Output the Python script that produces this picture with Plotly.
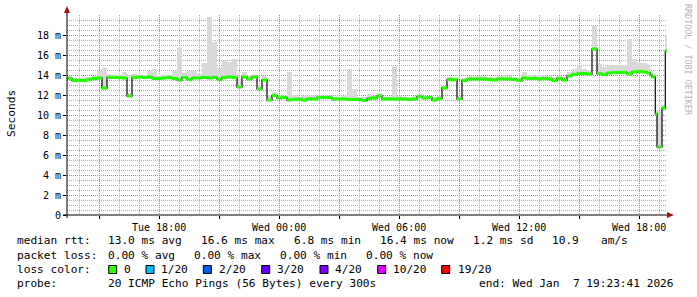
import plotly.graph_objects as go
import pandas as pd

# ---------------- data ----------------
START = pd.Timestamp("2026-01-06 13:23:41")
END = pd.Timestamp("2026-01-07 19:23:41")

# median RTT (ms), 15-minute samples from START
median_15min = [
    13.65, 13.45, 13.45, 13.45, 13.55, 13.65, 13.70, 12.70, 13.75, 13.75,
    13.75, 13.70, 11.90, 13.75, 13.80, 13.75, 13.80, 13.65, 13.65, 13.70,
    13.75, 13.65, 13.50, 13.75, 13.55, 13.70, 13.70, 13.75, 13.70, 13.75,
    13.55, 13.75, 13.80, 13.75, 12.80, 13.80, 13.60, 13.80, 12.60, 13.50,
    11.50, 11.95, 11.70, 11.75, 11.50, 11.55, 11.60, 11.50, 11.60, 11.60,
    11.75, 11.75, 11.75, 11.60, 11.60, 11.60, 11.55, 11.55, 11.55, 11.45,
    11.65, 11.70, 11.90, 11.60, 11.60, 11.60, 11.60, 11.60, 11.55, 11.60,
    11.85, 11.70, 11.75, 11.50, 11.65, 12.70, 13.55, 13.55, 11.60, 13.45,
    13.60, 13.60, 13.60, 13.60, 13.55, 13.50, 13.60, 13.60, 13.60, 13.55,
    13.45, 13.70, 13.65, 13.65, 13.60, 13.65, 13.60, 13.45, 13.65, 13.50,
    13.90, 14.05, 14.15, 14.15, 14.10, 16.60, 14.15, 14.05, 14.20, 14.25,
    14.25, 14.25, 14.10, 14.30, 14.35, 14.30,
]
# highest ping of each sample (ms) - top of the "smoke"
smoke_max_15min = [
    13.90, 13.75, 13.70, 13.75, 13.80, 13.90, 14.40, 14.75, 14.05, 14.00,
    14.00, 14.30, 12.20, 14.10, 14.00, 14.00, 14.50, 14.60, 14.00, 14.05,
    14.00, 14.45, 16.75, 14.20, 14.45, 14.40, 14.10, 15.20, 19.80, 17.30,
    14.75, 15.50, 15.30, 15.60, 13.60, 14.30, 14.00, 14.05, 13.00, 13.90,
    12.00, 12.35, 11.90, 11.95, 14.30, 12.00, 11.85, 11.90, 11.95, 11.95,
    11.95, 11.95, 11.95, 11.85, 11.85, 11.90, 14.60, 12.60, 11.80, 11.80,
    12.10, 11.90, 12.20, 11.85, 11.85, 14.85, 11.90, 11.85, 11.80, 11.85,
    12.10, 11.90, 11.90, 11.80, 11.90, 12.90, 13.80, 13.75, 11.90, 13.70,
    13.90, 13.85, 13.90, 13.85, 13.80, 13.80, 13.90, 14.00, 13.90, 13.80,
    13.70, 14.30, 14.00, 13.90, 14.00, 13.95, 13.90, 13.80, 13.90, 13.85,
    14.30, 14.60, 14.95, 14.60, 14.50, 18.90, 15.10, 14.80, 14.90, 15.00,
    15.00, 14.90, 17.60, 15.60, 15.25, 15.20,
]
# last hour at 5-minute resolution
median_5min_tail = [14.20, 14.20, 14.00, 13.80, 13.80, 10.10, 6.80, 6.80, 6.80, 10.70, 10.70, 16.40]
smoke_max_5min_tail = [15.10, 15.00, 14.60, 14.40, 14.20, 10.40, 10.40, 10.40, 10.30, 11.00, 11.00, 17.90]

y_tick_vals = [0, 2, 4, 6, 8, 10, 12, 14, 16, 18]
y_tick_labels = ["0", "2 m", "4 m", "6 m", "8 m", "10 m", "12 m", "14 m", "16 m", "18 m"]
x_tick_times = ["2026-01-06 15:00", "2026-01-06 18:00", "2026-01-06 21:00", "2026-01-07 00:00",
                "2026-01-07 03:00", "2026-01-07 06:00", "2026-01-07 09:00", "2026-01-07 12:00",
                "2026-01-07 15:00", "2026-01-07 18:00"]
x_tick_labels = ["", "Tue 18:00", "", "Wed 00:00", "", "Wed 06:00", "", "Wed 12:00", "", "Wed 18:00"]

rtt_stats = ["13.0 ms avg", "16.6 ms max", "6.8 ms min", "16.4 ms now", "1.2 ms sd", "10.9", "am/s"]
loss_stats = ["0.00 % avg", "0.00 % max", "0.00 % min", "0.00 % now"]
loss_labels = ["0", "1/20", "2/20", "3/20", "4/20", "10/20", "19/20"]
loss_colors = ["#26ff00", "#00b8ff", "#0059ff", "#5e00ff", "#7e00ff", "#dd00ff", "#ff0000"]
probe_text = "20 ICMP Echo Pings (56 Bytes) every 300s"
end_text = "end: Wed Jan  7 19:23:41 2026"

# ---------------- build series ----------------
times = list(pd.date_range(START, periods=len(median_15min), freq="15min"))
tail_start = times[-1] + pd.Timedelta(minutes=15)
times += list(pd.date_range(tail_start, periods=len(median_5min_tail), freq="5min"))
median = median_15min + median_5min_tail
smoke = smoke_max_15min + smoke_max_5min_tail

t_ext = times + [END]
med_ext = median + [median[-1]]
smoke_ext = smoke + [smoke[-1]]

gx, gy = [], []
for i, v in enumerate(median):
    gx += [t_ext[i], t_ext[i + 1], None]
    gy += [v, v, None]

MONO = "DejaVu Sans Mono"
fig = go.Figure()
fig.add_trace(go.Scatter(x=t_ext, y=med_ext, mode="lines", line=dict(shape="hv", width=0),
                         hoverinfo="skip", showlegend=False))
fig.add_trace(go.Scatter(x=t_ext, y=smoke_ext, mode="lines", line=dict(shape="hv", width=0),
                         fill="tonexty", fillcolor="#d9d9d9", hoverinfo="skip", showlegend=False))
fig.add_trace(go.Scatter(x=t_ext, y=med_ext, mode="lines", line=dict(shape="hv", width=1.3, color="#1a1a1a"),
                         hoverinfo="skip", showlegend=False))
fig.add_trace(go.Scatter(x=gx, y=gy, mode="lines", line=dict(width=3.2, color=loss_colors[0]),
                         hoverinfo="skip", showlegend=False, connectgaps=False))

# ---------------- layout ----------------
L, T, W, H = 67, 15, 600, 200
def px(x):
    return (x - L) / W
def py(y):
    return (T + H - y) / H

MAJ = "#de7474"
MIN = "#ababab"
fig.update_layout(
    width=697, height=297,
    margin=dict(l=L, r=697 - L - W, t=T, b=297 - T - H, pad=0),
    paper_bgcolor="white", plot_bgcolor="white",
    showlegend=False,
    xaxis=dict(type="date", range=[START, END], tickmode="array",
               tickvals=x_tick_times, ticktext=x_tick_labels,
               showgrid=True, gridcolor=MAJ, griddash="1px,1px", gridwidth=1,
               minor=dict(tickmode="linear", tick0="2026-01-06 14:00", dtick=3600000,
                          showgrid=True, gridcolor=MIN, griddash="1px,1px", ticks=""),
               ticks="outside", ticklen=3, tickcolor="black",
               tickfont=dict(family=MONO, size=10, color="black"),
               showline=False, zeroline=False, fixedrange=True),
    yaxis=dict(range=[0, 20], tickmode="array", tickvals=y_tick_vals, ticktext=y_tick_labels,
               showgrid=True, gridcolor=MAJ, griddash="1px,1px", gridwidth=1,
               minor=dict(tickmode="linear", tick0=0, dtick=0.5,
                          showgrid=True, gridcolor=MIN, griddash="1px,1px", ticks=""),
               ticks="outside", ticklen=3, tickcolor="black",
               tickfont=dict(family=MONO, size=10, color="black"),
               showline=False, zeroline=False, fixedrange=True),
)

shapes = [
    dict(type="line", xref="paper", yref="paper", x0=px(63), y0=py(215), x1=px(670), y1=py(215),
         line=dict(color="black", width=1)),
    dict(type="line", xref="paper", yref="paper", x0=px(67), y0=py(218), x1=px(67), y1=py(11),
         line=dict(color="black", width=1)),
    dict(type="path", xref="paper", yref="paper",
         path=f"M {px(667)} {py(212)} L {px(674)} {py(215)} L {px(667)} {py(218)} Z",
         fillcolor="#a01010", line=dict(width=0)),
    dict(type="path", xref="paper", yref="paper",
         path=f"M {px(64)} {py(13)} L {px(67)} {py(6)} L {px(70)} {py(13)} Z",
         fillcolor="#a01010", line=dict(width=0)),
]

ann = []
def text(x, y, s, size=11.15, color="black", angle=0, xanchor="left"):
    ann.append(dict(xref="paper", yref="paper", x=px(x), y=py(y), text=s, showarrow=False,
                    xanchor=xanchor, yanchor="middle", textangle=angle, borderpad=0,
                    font=dict(family=MONO, size=size, color=color)))

# axis title and watermark
text(11, 114, "Seconds", size=11.2, angle=-90, xanchor="center")
text(688, 60, "RRDTOOL / TOBI OETIKER", size=8.4, color="#b4b4b4", angle=90, xanchor="center")

# legend rows
row_y = [241, 255.5, 269.5, 283.5]
text(16, row_y[0], "median rtt:")
for s, x in zip(rtt_stats, [107.3, 200, 292.7, 379.3, 472.3, 551, 600]):
    text(x, row_y[0], s)
text(16, row_y[1], "packet loss:")
for s, x in zip(loss_stats, [107.3, 193.3, 279.3, 365.3]):
    text(x, row_y[1], s)
text(16, row_y[2], "loss color:")
for lab, col, bx, lx in zip(loss_labels, loss_colors,
                            [108.7, 146, 203.3, 261.7, 320, 377.7, 441.7],
                            [123.3, 160, 218.3, 276, 334.3, 391.7, 456.7]):
    shapes.append(dict(type="rect", xref="paper", yref="paper", x0=px(bx), x1=px(bx + 8),
                       y0=py(273.5), y1=py(265.5), fillcolor=col, line=dict(color="black", width=1)))
    text(lx, row_y[2], lab)
text(16, row_y[3], "probe:")
text(107.3, row_y[3], probe_text)
text(478.3, row_y[3], end_text)

fig.update_layout(shapes=shapes, annotations=ann)
fig.write_html("out.html")
